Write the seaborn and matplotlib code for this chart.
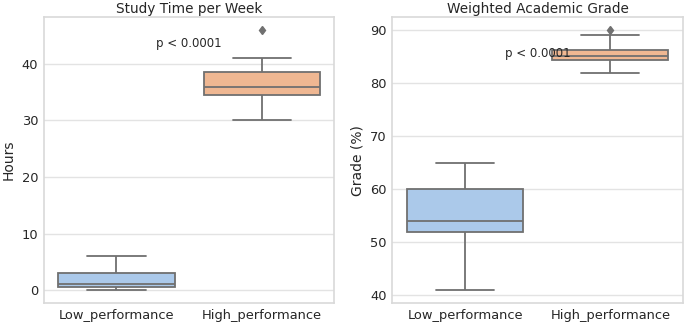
import matplotlib
matplotlib.use("Agg")
import matplotlib.pyplot as plt
import pandas as pd
import seaborn as sns

groups = ["Low_performance", "High_performance"]

# Weekly study hours per student
study_low = [0, 0.2, 0.5, 0.8, 1, 2, 3, 4, 6]
study_high = [30, 33, 34.5, 35, 36, 37, 38.5, 41, 46]

# Weighted academic grade (%) per student
grade_low = [41, 48, 52, 53, 54, 57, 60, 63, 65]
grade_high = [82, 84, 84.3, 85, 85.2, 85.8, 86.2, 89, 90]

p_label = "p < 0.0001"

sns.set_theme(style="whitegrid")
plt.rcParams.update({
    "font.family": ["DejaVu Sans"],
    "axes.titlesize": 9.8,
    "axes.labelsize": 10,
    "xtick.labelsize": 9.4,
    "ytick.labelsize": 9.4,
    "axes.edgecolor": "#d9d9d9",
    "grid.color": "#e3e3e3",
    "text.color": "#262626",
    "axes.labelcolor": "#262626",
    "xtick.color": "#262626",
    "ytick.color": "#262626",
})

def frame(low, high, col):
    return pd.DataFrame({
        "Group": [groups[0]] * len(low) + [groups[1]] * len(high),
        col: list(low) + list(high),
    })

study_df = frame(study_low, study_high, "Hours")
grade_df = frame(grade_low, grade_high, "Grade")

fig, axes = plt.subplots(1, 2, figsize=(6.85, 3.28), dpi=100)
fig.subplots_adjust(left=0.064, right=0.997, bottom=0.076, top=0.948, wspace=0.2)

box_kw = dict(
    palette="pastel", order=groups, width=0.8, saturation=0.75,
    linecolor="#707070", linewidth=1.3,
    flierprops=dict(marker="d", markerfacecolor="#707070",
                    markeredgecolor="#707070", markersize=4.5),
)

ax = axes[0]
sns.boxplot(data=study_df, x="Group", y="Hours", hue="Group", ax=ax, **box_kw)
ax.set_title("Study Time per Week", pad=3)
ax.set_xlabel("")
ax.set_ylabel("Hours", labelpad=4)
ax.text(0.5, max(study_high) * 0.95, p_label, ha="center", va="center", fontsize=8.5)

ax = axes[1]
sns.boxplot(data=grade_df, x="Group", y="Grade", hue="Group", ax=ax, **box_kw)
ax.set_title("Weighted Academic Grade", pad=3)
ax.set_xlabel("")
ax.set_ylabel("Grade (%)", labelpad=4)
ax.set_yticks([40, 50, 60, 70, 80, 90])
ax.text(0.5, max(grade_high) * 0.95, p_label, ha="center", va="center", fontsize=8.5)

for a in axes:
    a.tick_params(axis="both", length=0, pad=4)
    for s in a.spines.values():
        s.set_linewidth(1.2)

fig.savefig("out.png", dpi=100)
